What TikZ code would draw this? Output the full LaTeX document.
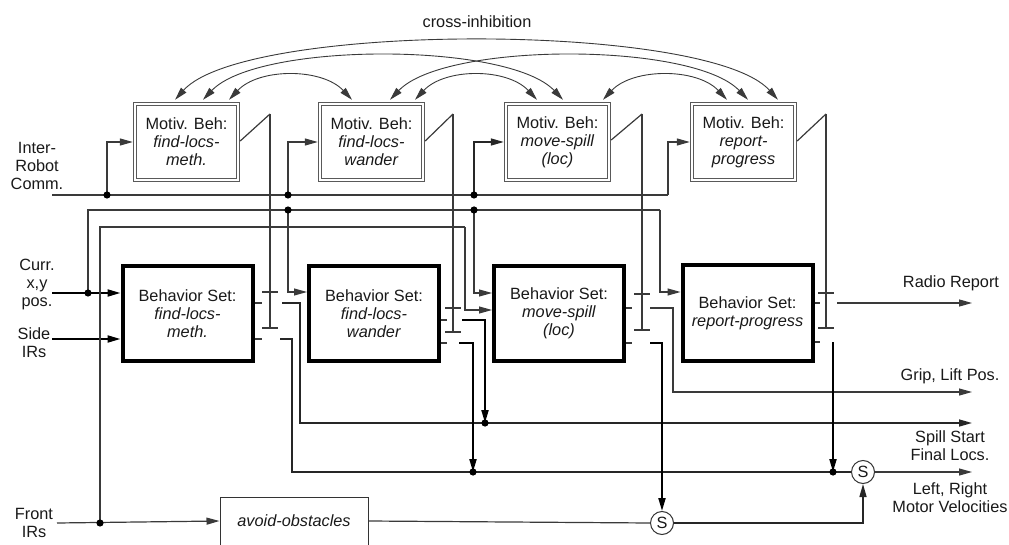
\documentclass[tikz,border=0pt]{standalone}
\usepackage{fontspec}
\setmainfont{Liberation Sans}
\usetikzlibrary{arrows.meta,calc}
\definecolor{lc}{HTML}{3A3A3A}
\newcommand\fnt{\fontsize{16.3pt}{18pt}\selectfont}
\newcommand\inhibsw[4]{% x, top y, tick y, end y
  \draw[ln] (#1,#2) -- (#1,#4);
  \draw[ln] (#1-8,#3) -- (#1+8,#3);
  \draw[ln] (#1-8,#4) -- (#1+8,#4);}
\begin{document}
\begin{tikzpicture}[x=1pt,y=-1pt,
  every node/.style={font=\fnt, text=black!90},
  ln/.style={draw=lc, line width=1.2pt},
  md/.style={draw=black!85, line width=1.5pt},
  tk/.style={draw=black, line width=2pt},
  arr/.style={-{Triangle[length=13pt,width=7pt]}},
  darr/.style={{Triangle[length=13pt,width=7pt]}-{Triangle[length=13pt,width=7pt]}},
  mot/.style={draw=black!65, double=white, double distance=2.6pt, line width=0.9pt,
    minimum width=103pt, minimum height=76pt, outer sep=2.2pt, inner sep=0pt, align=center},
  bs/.style={draw=black, line width=4pt, minimum width=130pt, minimum height=95pt,
    align=center, inner sep=0pt},
  sw/.style={circle, draw=black!80, line width=1pt, minimum size=23pt, inner sep=0pt},
  lbl/.style={inner sep=0pt, align=center}
]
\useasboundingbox (0,0) rectangle (1009,545);

% ---------- nodes ----------
\node[mot] (m1) at (186.5,142) {Motiv. Beh:\\\textit{find-locs-}\\\textit{meth.}};
\node[mot] (m2) at (371.5,142) {Motiv. Beh:\\\textit{find-locs-}\\\textit{wander}};
\node[mot] (m3) at (557.5,142) {Motiv. Beh:\\\textit{move-spill}\\\textit{(loc)}};
\node[mot] (m4) at (743.5,142) {Motiv. Beh:\\\textit{report-}\\\textit{progress}};

\node[bs] (bs1) at (187.5,313.5) {Behavior Set:\\\textit{find-locs-}\\\textit{meth.}};
\node[bs] (bs2) at (374,313.5) {Behavior Set:\\\textit{find-locs-}\\\textit{wander}};
\node[bs] (bs3) at (559,313.5) {Behavior Set:\\\textit{move-spill}\\\textit{(loc)}};
\node[bs] (bs4) at (747.5,313) {Behavior Set:\\\textit{report-progress}};

\node[draw=black!80, line width=1pt, minimum width=148pt, minimum height=48pt, inner sep=0pt]
  (av) at (294,521) {\textit{avoid-obstacles}};
\node[sw] (s1) at (662,523) {S};
\node[sw] (s2) at (863,472) {S};

\node[lbl] (lci) at (477,22) {cross-inhibition};
\node[lbl] (lirc) at (37,166) {Inter-\\Robot\\Comm.};
\node[lbl] (lcur) at (37,285) {Curr.\\x,y\\pos.};
\node[lbl] (lside) at (34,343) {Side\\IRs};
\node[lbl] (lfront) at (34,523) {Front\\IRs};
\node[lbl] (lrad) at (951,283) {Radio Report};
\node[lbl] (lgrip) at (950,376) {Grip, Lift Pos.};
\node[lbl] (lspill) at (950,446) {Spill Start\\Final Locs.};
\node[lbl] (lmot) at (950,498) {Left, Right\\Motor Velocities};

% ---------- cross-inhibition arcs ----------
\coordinate (m1a) at ($(m1.north)+(-11.5,-2)$);
\coordinate (m1b) at ($(m1.north)+(16.5,-2)$);
\coordinate (m1c) at ($(m1.north)+(42.5,-2)$);
\coordinate (m2a) at ($(m2.north)+(-19.5,-2)$);
\coordinate (m2b) at ($(m2.north)+(18.5,-2)$);
\coordinate (m2c) at ($(m2.north)+(43.5,-2)$);
\coordinate (m3a) at ($(m3.north)+(-20.5,-2)$);
\coordinate (m3b) at ($(m3.north)+(5.5,-2)$);
\coordinate (m3c) at ($(m3.north)+(45.5,-2)$);
\coordinate (m4a) at ($(m4.north)+(-16.5,-2)$);
\coordinate (m4b) at ($(m4.north)+(4.5,-2)$);
\coordinate (m4c) at ($(m4.north)+(34.5,-2)$);
\draw[ln,line width=0.9pt,darr] (m1a) .. controls +(70,-78) and +(-70,-78) .. (m4c);
\draw[ln,line width=0.9pt,darr] (m1b) .. controls +(55,-58) and +(-55,-58) .. (m3b);
\draw[ln,line width=0.9pt,darr] (m2b) .. controls +(55,-58) and +(-55,-58) .. (m4b);
\draw[ln,line width=0.9pt,darr] (m1c) .. controls +(30,-32) and +(-30,-32) .. (m2a);
\draw[ln,line width=0.9pt,darr] (m2c) .. controls +(30,-32) and +(-30,-32) .. (m3a);
\draw[ln,line width=0.9pt,darr] (m3c) .. controls +(30,-32) and +(-30,-32) .. (m4a);

% ---------- inter-robot comm bus ----------
\coordinate (ircL) at (52,195);
\coordinate (ircR) at (668,195);
\coordinate (jm1) at (107,195);
\coordinate (jm2) at (288,195);
\coordinate (jm3) at (474,195);
\draw[ln] (ircL) -- (ircR);
\draw[ln,arr] (ircR) |- (m4.west);
\draw[ln,arr] (jm1) |- (m1.west);
\draw[ln,arr] (jm2) |- (m2.west);
\draw[md,arr] (jm3) |- (m3.west);

% ---------- current position ----------
\coordinate (cpL) at (52,293);
\coordinate (jc) at (88,293);
\coordinate (cpR) at (660,210);
\coordinate (jb2) at (288,210);
\coordinate (jb3) at (474,210);
\draw[tk,arr] (cpL) -- (bs1.west |- cpL);
\draw[ln] (jc) |- (cpR);
\draw[ln,arr] (cpR) |- (bs4.west |- 0,292);
\draw[ln,arr] (jb2) |- (bs2.west |- 0,292);
\draw[ln,arr] (jb3) |- (bs3.west |- 0,293);

% ---------- side IRs ----------
\coordinate (siL) at (52,339);
\draw[tk,arr] (siL) -- (bs1.west |- siL);

% ---------- front IRs ----------
\coordinate (fiL) at (57,523);
\coordinate (jf) at (100,523);
\coordinate (fiR) at (465,227);
\draw[ln,arr] (fiL) -- (av.west);
\draw[ln] (jf) |- (fiR);
\draw[ln,arr] (fiR) |- (bs3.west |- 0,310);

% ---------- inhibition from motivational behaviours ----------
\draw[ln] ([yshift=1pt]m1.east) -- (270,114);
\inhibsw{270}{114}{292}{328}
\draw[ln] ([yshift=1pt]m2.east) -- (453,114);
\inhibsw{453}{114}{308}{332}
\draw[ln] ([yshift=2pt]m3.east) -- (642,114);
\inhibsw{642}{114}{294}{330}
\draw[ln] ([yshift=1pt]m4.east) -- (826,114);
\inhibsw{826}{114}{293}{328}

% ---------- outputs BS1 ----------
\draw[ln] (bs1.east |- 0,303) -- (262,303);
\draw[md,arr] (282,303) -| (300,423) -- (972,423);
\draw[ln] (bs1.east |- 0,339) -- (262,339);
\draw[md] (280,339) -| (292,472) -- (s2.west);
\draw[ln,arr] (s2.east) -- (972,472);

% ---------- outputs BS2 ----------
\draw[ln] (bs2.east |- 0,320) -- (447,320);
\draw[tk,arr] (462,320) -| (485,423);
\draw[ln] (bs2.east |- 0,343) -- (447,343);
\draw[tk,arr] (459,343) -| (473,472);

% ---------- outputs BS3 ----------
\draw[ln] (bs3.east |- 0,308) -- (632,308);
\draw[ln,arr] (650,308) -| (673,392) -- (972,392);
\draw[ln] (bs3.east |- 0,343) -- (632,343);
\draw[tk,arr] (650,343) -| (s1.north);

% ---------- outputs BS4 ----------
\draw[ln] (bs4.east |- 0,303) -- (820,303);
\draw[ln,arr] (837,303) -- (972,303);
\draw[ln] (bs4.east |- 0,342) -- (820,342);
\draw[tk,arr] (833,342) -- (833,472);

% ---------- avoid obstacles / suppression ----------
\draw[ln] (av.east) -- (s1.west);
\draw[md,arr] (s1.east) -| (s2.south);

% ---------- junction dots ----------
\foreach \p in {jm1,jm2,jm3,jc,jb2,jb3,jf}
  \fill (\p) circle (3.6pt);
\foreach \p in {(485,423),(473,472),(833,472)}
  \fill \p circle (3.6pt);
\end{tikzpicture}
\end{document}
